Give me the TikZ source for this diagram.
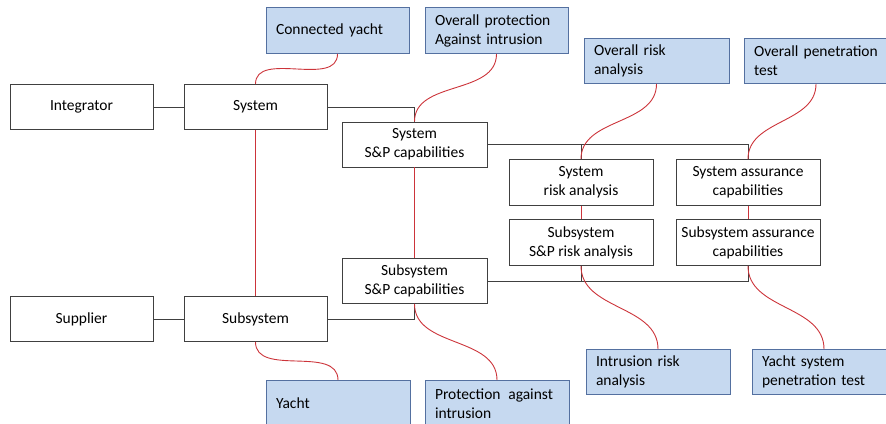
\documentclass[tikz,border=0pt]{standalone}
\usepackage{fontspec}
\setmainfont{Carlito}
\begin{document}
\definecolor{boxline}{RGB}{64,64,64}
\definecolor{linkred}{RGB}{204,52,58}
\definecolor{notefill}{RGB}{198,217,240}
\definecolor{noteline}{RGB}{84,112,160}
\begin{tikzpicture}[x=1pt,y=-1pt,
  every node/.style={font=\fontsize{15.5}{19}\selectfont, inner sep=0pt},
  role/.style={draw=boxline, line width=0.9pt, fill=white, align=center,
    minimum width=#1, minimum height=45pt},
  role/.default=143pt,
  note/.style={draw=noteline, line width=0.8pt, fill=notefill, align=left,
    text width=#1-20pt, minimum height=46pt, inner xsep=10pt},
  note/.default=144pt,
  tie/.style={draw=boxline, line width=1pt},
  link/.style={draw=linkred, line width=0.9pt}]
\useasboundingbox (0,0) rectangle (886,423);

% organisation and level boxes
\node[role] (integ) at (81.5,107) {Integrator};
\node[role] (sys) at (255.5,107) {System};
\node[role] (supp) at (81.5,319) {Supplier};
\node[role] (subs) at (255.5,319) {Subsystem};
\node[role=145pt] (sysSP) at (414.5,144.5) {System\\S\&P capabilities};
\node[role=145pt] (subSP) at (414.5,281) {Subsystem\\S\&P capabilities};
\node[role=144pt, minimum height=46pt] (sysRA) at (581,182.5) {System\\risk analysis};
\node[role=144pt, minimum height=46pt] (sysAC) at (748,182.5) {System assurance\\capabilities};
\node[role=144pt, minimum height=46pt] (subRA) at (581,242.5) {Subsystem\\S\&P risk analysis};
\node[role=144pt, minimum height=46pt] (subAC) at (748,242.5) {Subsystem assurance\\capabilities};

% notes
\node[note=143pt] (cy) at (337.5,30.5) {Connected yacht};
\node[note=143pt] (op) at (496.5,30.5) {Overall protection\\Against intrusion};
\node[note=145pt, minimum height=45pt] (ora) at (656.5,61) {Overall risk\\analysis};
\node[note=144pt, minimum height=45pt] (opt) at (816,61) {Overall penetration\\test};
\node[note=144pt] (yacht) at (338,403.5) {Yacht};
\node[note=144pt] (pai) at (497,403.5) {Protection\hspace{0.5em}against\\intrusion};
\node[note=144pt, minimum height=45pt] (ira) at (658,372) {Intrusion risk\\analysis};
\node[note=144pt, minimum height=45pt] (ysp) at (824,372) {Yacht system\\penetration test};

% structural connectors
\draw[tie] (integ.east) -- (sys.west);
\draw[tie] (supp.east) -- (subs.west);
\draw[tie] (sys.east) -| (sysSP.north);
\draw[tie] (subs.east) -| (subSP.south);
\draw[tie] (sysSP.east) -| (sysAC.north);
\draw[tie] (sysRA.north |- sysSP.east) -- (sysRA.north);
\draw[tie] (subSP.east) -| (subAC.south);
\draw[tie] (subRA.south |- subSP.east) -- (subRA.south);

% level links
\draw[link] (sys.south) -- (subs.north);
\draw[link] (sysSP.south) -- (subSP.north);
\draw[link] (sysRA.south) -- (subRA.north);
\draw[link] (sysAC.south) -- (subAC.north);

% note links
\draw[link] (cy.south) to[out=-90,in=90] (sys.north);
\draw[link] (op.south) to[out=-90,in=90] (sysSP.north);
\draw[link] (ora.south) to[out=-90,in=90] (sysRA.north);
\draw[link] (opt.south) to[out=-90,in=90] (sysAC.north);
\draw[link] (subs.south) to[out=-90,in=90] (yacht.north);
\draw[link] (subSP.south) to[out=-90,in=90] (pai.north);
\draw[link] (subRA.south) to[out=-90,in=90] (ira.north);
\draw[link] (subAC.south) to[out=-90,in=90] (ysp.north);
\end{tikzpicture}
\end{document}
